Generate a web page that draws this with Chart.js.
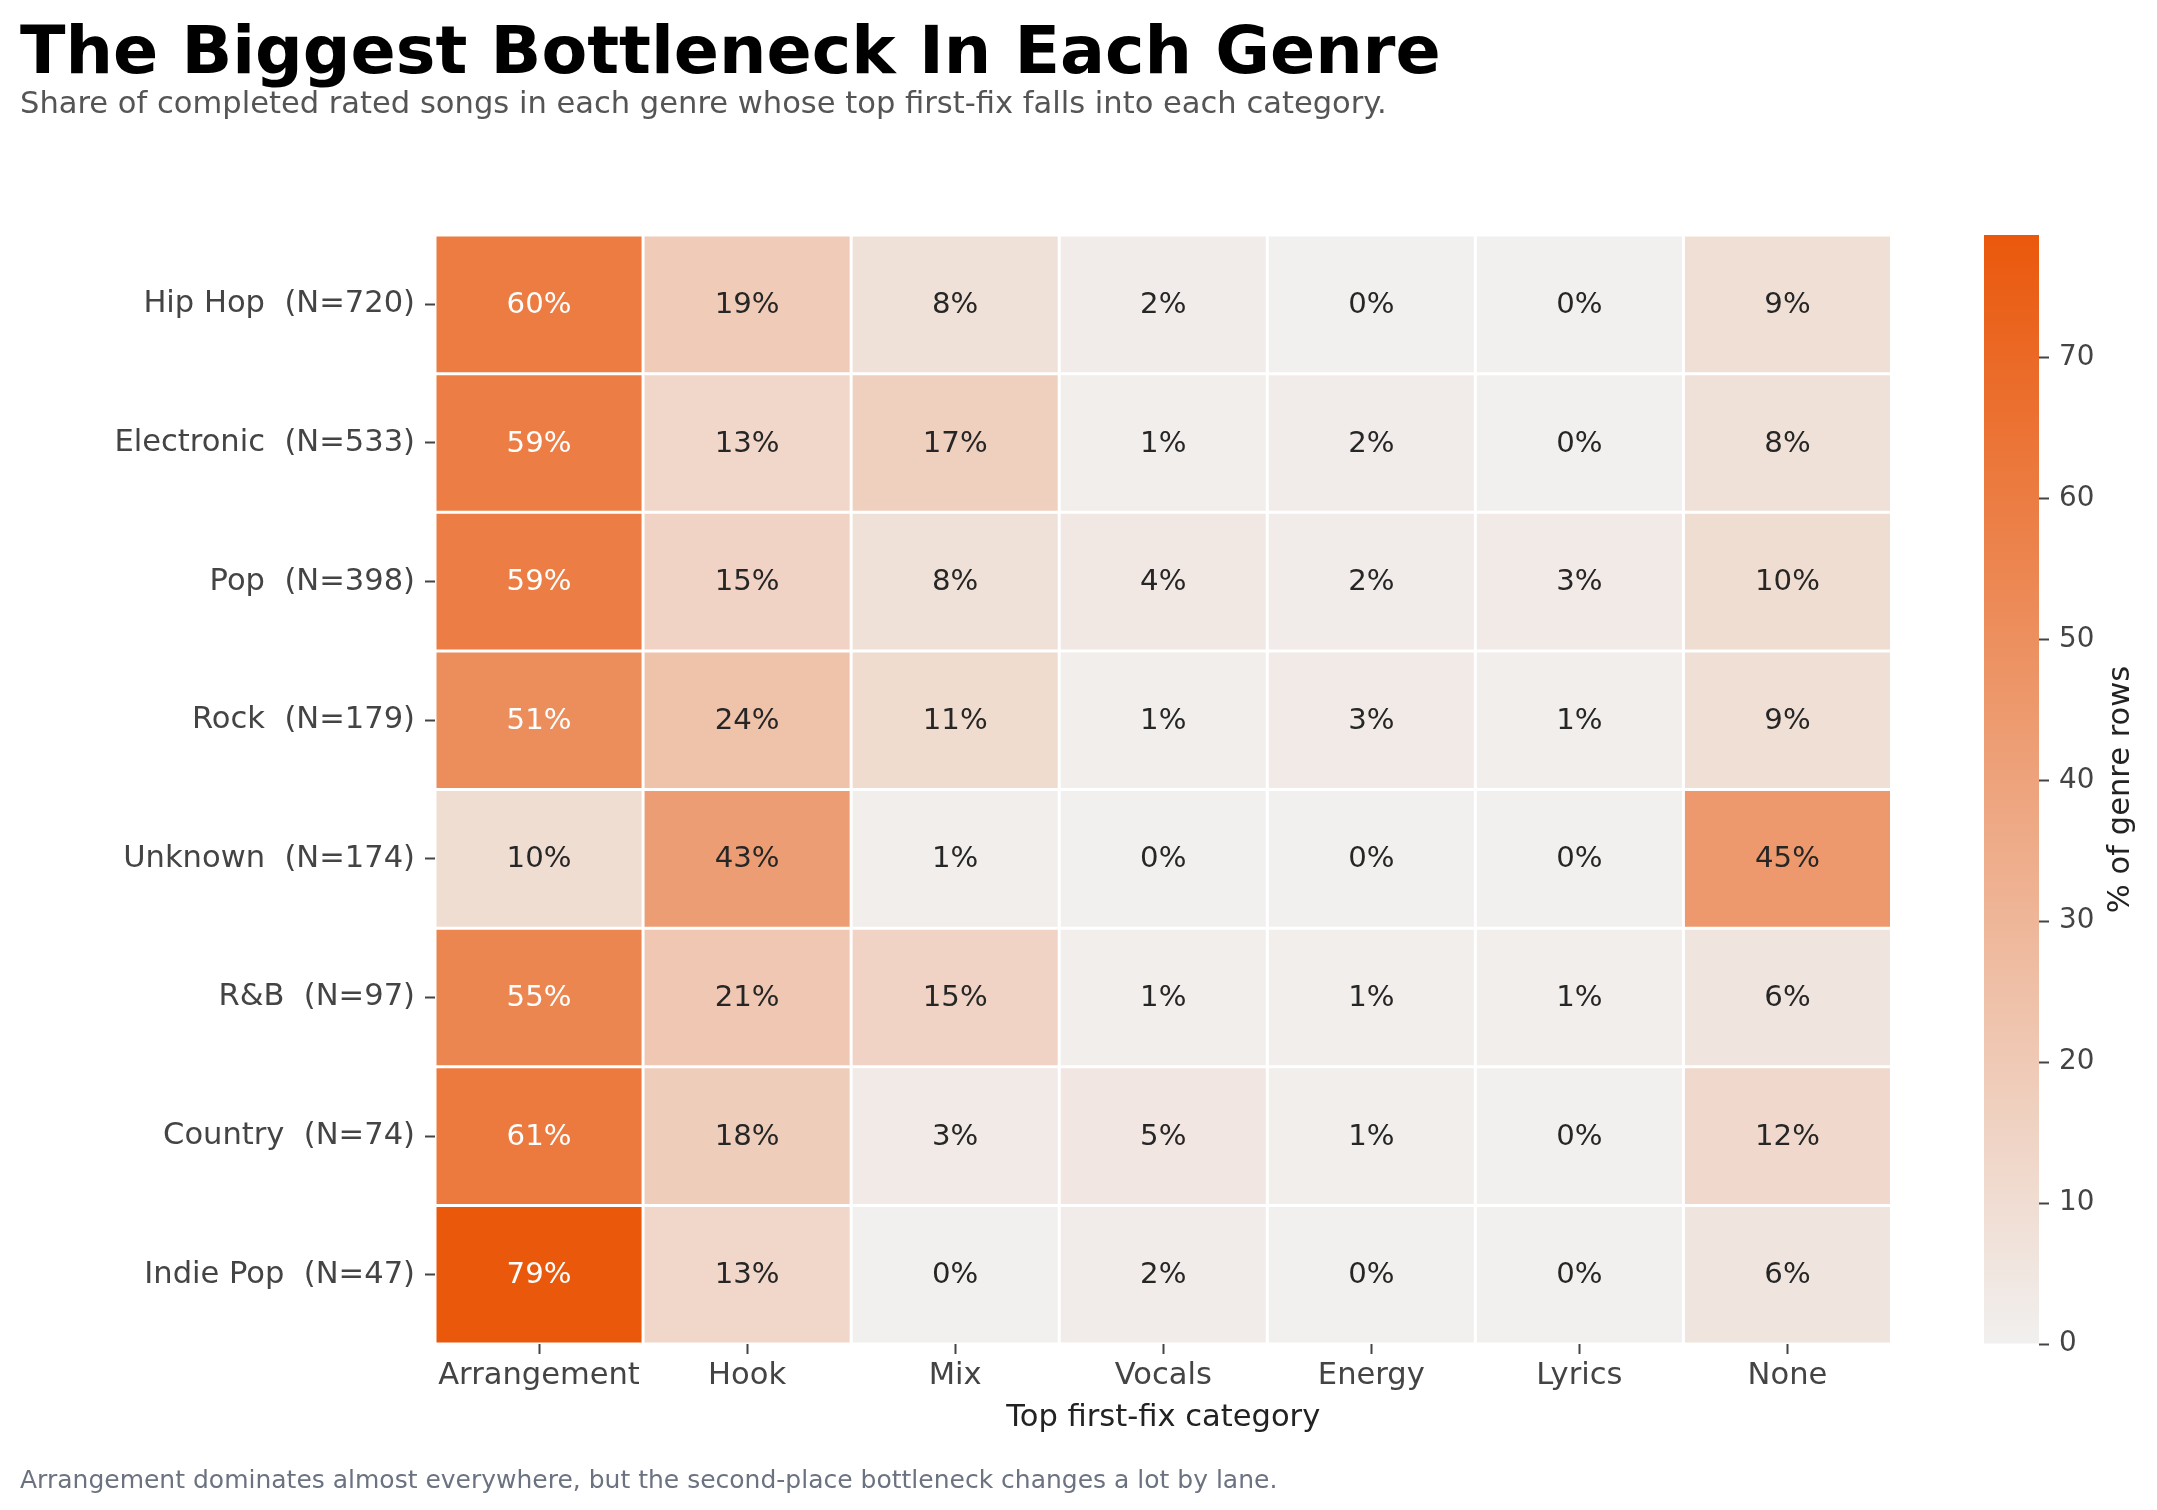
<!DOCTYPE html>
<html>
<head>
<meta charset="utf-8">
<script src="https://cdn.jsdelivr.net/npm/chart.js@4.4.1/dist/chart.umd.min.js"></script>
<style>
  html, body { margin: 0; padding: 0; background: #ffffff; }
  body { width: 2157px; height: 1510px; position: relative; overflow: hidden; }
  canvas { position: absolute; top: 0; }
  #main { left: 0; }
  #cbar { left: 1900px; }
</style>
</head>
<body>
<canvas id="main" width="2157" height="1510"></canvas>
<canvas id="cbar" width="257" height="1510"></canvas>
<script>
// ---------- data ----------
const genres = ["Hip Hop", "Electronic", "Pop", "Rock", "Unknown", "R&B", "Country", "Indie Pop"];
const genreCounts = [720, 533, 398, 179, 174, 97, 74, 47];
const categories = ["Arrangement", "Hook", "Mix", "Vocals", "Energy", "Lyrics", "None"];

const hipHop     = [60, 19, 8, 2, 0, 0, 9];
const electronic = [59, 13, 17, 1, 2, 0, 8];
const pop        = [59, 15, 8, 4, 2, 3, 10];
const rock       = [51, 24, 11, 1, 3, 1, 9];
const unknown    = [10, 43, 1, 0, 0, 0, 45];
const rnb        = [55, 21, 15, 1, 1, 1, 6];
const country    = [61, 18, 3, 5, 1, 0, 12];
const indiePop   = [78.7, 13, 0, 2, 0, 0, 6];

const colorbarTicks = [0, 10, 20, 30, 40, 50, 60, 70];

const titleText = "The Biggest Bottleneck In Each Genre";
const subtitleText = "Share of completed rated songs in each genre whose top first-fix falls into each category.";
const footerText = "Arrangement dominates almost everywhere, but the second-place bottleneck changes a lot by lane.";
const xTitle = "Top first-fix category";
const cbarTitle = "% of genre rows";

// ---------- derived ----------
const rowValues = [hipHop, electronic, pop, rock, unknown, rnb, country, indiePop];
const rowLabels = genres.map((g, i) => g + "  (N=" + genreCounts[i] + ")");
const vmax = Math.max(...rowValues.flat());
const vmin = 0;

const LOW = [241, 240, 239];
const HIGH = [234, 88, 12];
function cmap(v) {
  const t = Math.max(0, Math.min(1, (v - vmin) / (vmax - vmin)));
  const c = LOW.map((l, k) => Math.round(l + (HIGH[k] - l) * t));
  return "rgb(" + c.join(",") + ")";
}

const FONT = "'DejaVu Sans', 'Liberation Sans', sans-serif";

const datasets = rowValues.map((vals, r) => ({
  label: rowLabels[r],
  data: vals.map(() => [r - 0.5, r + 0.5]),
  values: vals,
  backgroundColor: vals.map(v => cmap(v)),
  borderColor: "#ffffff",
  borderWidth: 1.5,
  borderSkipped: false,
  grouped: false,
  barPercentage: 1,
  categoryPercentage: 1,
  inflateAmount: 0
}));

const annotPlugin = {
  id: "annot",
  afterDatasetsDraw(chart) {
    const ctx = chart.ctx;
    ctx.save();
    ctx.font = "29.2px " + FONT;
    ctx.textAlign = "center";
    ctx.textBaseline = "middle";
    chart.data.datasets.forEach((ds, di) => {
      const meta = chart.getDatasetMeta(di);
      meta.data.forEach((bar, j) => {
        const v = ds.values[j];
        const p = bar.getProps(["x", "y", "base"], true);
        const cy = (p.y + p.base) / 2;
        ctx.fillStyle = v >= 48 ? "#ffffff" : "#262626";
        ctx.fillText(Math.round(v) + "%", p.x, cy + 1);
      });
    });
    ctx.restore();
  }
};

const textPlugin = {
  id: "pageText",
  afterDraw(chart) {
    const ctx = chart.ctx;
    ctx.save();
    ctx.textAlign = "left";
    ctx.textBaseline = "alphabetic";
    ctx.fillStyle = "#000000";
    ctx.font = "bold 66.7px " + FONT;
    ctx.fillText(titleText, 20, 73);
    ctx.fillStyle = "#555555";
    ctx.font = "30.56px " + FONT;
    ctx.fillText(subtitleText, 20, 113);
    ctx.fillStyle = "#6b7280";
    ctx.font = "25px " + FONT;
    ctx.fillText(footerText, 20, 1488);
    ctx.restore();
  }
};

new Chart(document.getElementById("main"), {
  type: "bar",
  data: { labels: categories, datasets },
  options: {
    responsive: false,
    devicePixelRatio: 1,
    animation: false,
    layout: { padding: { top: 235, right: 265.5, bottom: 70, left: 0 } },
    plugins: { legend: { display: false }, tooltip: { enabled: false }, title: { display: false } },
    scales: {
      x: {
        type: "category",
        offset: true,
        afterFit(scale) { scale.height = 96; },
        grid: { offset: false, drawOnChartArea: false, drawTicks: true, tickLength: 10, tickWidth: 2, tickColor: "#444444" },
        border: { display: false },
        ticks: { color: "#444444", font: { family: FONT, size: 30.56 }, padding: 4, maxRotation: 0, autoSkip: false },
        title: { display: true, text: xTitle, color: "#222222", font: { family: FONT, size: 30.56 }, padding: { top: 0, bottom: 4 } }
      },
      y: {
        type: "linear",
        min: -0.5,
        max: rowLabels.length - 0.5,
        reverse: true,
        afterFit(scale) { scale.width = 435; },
        afterBuildTicks(scale) { scale.ticks = rowLabels.map((_, i) => ({ value: i })); },
        grid: { drawOnChartArea: false, drawTicks: true, tickLength: 10, tickWidth: 2, tickColor: "#444444" },
        border: { display: false },
        ticks: {
          color: "#444444",
          font: { family: FONT, size: 30.56 },
          padding: 10,
          autoSkip: false,
          callback: (val) => rowLabels[Math.round(val)] ?? ""
        }
      }
    }
  },
  plugins: [annotPlugin, textPlugin]
});

// ---------- colorbar ----------
const cbarLabelPlugin = {
  id: "cbarLabel",
  afterDraw(chart) {
    const ctx = chart.ctx;
    const a = chart.chartArea;
    ctx.save();
    ctx.translate(221, (a.top + a.bottom) / 2);
    ctx.rotate(-Math.PI / 2);
    ctx.textAlign = "center";
    ctx.textBaseline = "middle";
    ctx.fillStyle = "#222222";
    ctx.font = "30.56px " + FONT;
    ctx.fillText(cbarTitle, 0, 0);
    ctx.restore();
  }
};

new Chart(document.getElementById("cbar"), {
  type: "bar",
  data: {
    labels: [""],
    datasets: [{
      data: [[vmin, vmax]],
      backgroundColor(context) {
        const chart = context.chart;
        const a = chart.chartArea;
        if (!a) return cmap(vmax);
        const ys = chart.scales.y;
        const g = chart.ctx.createLinearGradient(0, ys.getPixelForValue(vmin), 0, ys.getPixelForValue(vmax));
        g.addColorStop(0, cmap(vmin));
        g.addColorStop(1, cmap(vmax));
        return g;
      },
      borderWidth: 0,
      barPercentage: 1,
      categoryPercentage: 1,
      inflateAmount: 0
    }]
  },
  options: {
    responsive: false,
    devicePixelRatio: 1,
    animation: false,
    layout: { padding: { top: 235, right: 0, bottom: 166, left: 84 } },
    plugins: { legend: { display: false }, tooltip: { enabled: false } },
    scales: {
      x: { display: false },
      y: {
        position: "right",
        min: vmin,
        max: vmax,
        afterFit(scale) { scale.width = 118; },
        afterBuildTicks(scale) { scale.ticks = colorbarTicks.map(v => ({ value: v })); },
        grid: { drawOnChartArea: false, drawTicks: true, tickLength: 10, tickWidth: 2, tickColor: "#444444" },
        border: { display: false },
        ticks: { color: "#444444", font: { family: FONT, size: 27.8 }, padding: 10, autoSkip: false }
      }
    }
  },
  plugins: [cbarLabelPlugin]
});
</script>
</body>
</html>
